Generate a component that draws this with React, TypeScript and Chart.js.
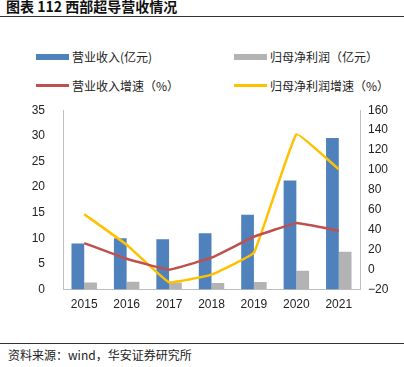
import React, { useEffect, useRef } from "react";
import { Chart, registerables } from "chart.js";

Chart.register(...registerables);

const years = ["2015", "2016", "2017", "2018", "2019", "2020", "2021"];
const revenue = [9.0, 10.0, 9.8, 11.0, 14.6, 21.3, 29.6];
const netProfit = [1.4, 1.55, 1.4, 1.3, 1.5, 3.7, 7.4];
const revenueGrowth = [26.7, 11, 0, 12, 33, 46.7, 39];
const profitGrowth = [55.7, 25, -12.7, -5, 17, 135.7, 100.7];

const BLUE = "#4F81BD";
const GRAY = "#B3B3B3";
const RED = "#C0504D";
const YELLOW = "#FFC000";

const legendItems = [
  { label: "营业收入(亿元)", color: BLUE, bar: true, x: 36, y: 48 },
  { label: "归母净利润（亿元）", color: GRAY, bar: true, x: 234, y: 48 },
  { label: "营业收入增速（%）", color: RED, bar: false, x: 36, y: 77 },
  { label: "归母净利润增速（%）", color: YELLOW, bar: false, x: 234, y: 77 },
];

export default function App() {
  const ref = useRef<HTMLCanvasElement>(null);
  useEffect(() => {
    document.body.style.margin = "0";
    const ctx = ref.current!;
    const chart = new Chart(ctx, {
      type: "bar",
      data: {
        labels: years,
        datasets: [
          {
            type: "line",
            label: "营业收入增速（%）",
            data: revenueGrowth,
            borderColor: RED,
            backgroundColor: RED,
            borderWidth: 2.5,
            pointRadius: 0,
            tension: 0.08,
            yAxisID: "y1",
            order: 0,
          },
          {
            type: "line",
            label: "归母净利润增速（%）",
            data: profitGrowth,
            borderColor: YELLOW,
            backgroundColor: YELLOW,
            borderWidth: 2.5,
            pointRadius: 0,
            tension: 0.08,
            yAxisID: "y1",
            order: 0,
          },
          {
            label: "营业收入(亿元)",
            data: revenue,
            backgroundColor: BLUE,
            yAxisID: "y",
            barPercentage: 1,
            categoryPercentage: 0.6,
            order: 1,
          },
          {
            label: "归母净利润（亿元）",
            data: netProfit,
            backgroundColor: GRAY,
            yAxisID: "y",
            barPercentage: 1,
            categoryPercentage: 0.6,
            order: 1,
          },
        ],
      },
      options: {
        animation: false,
        responsive: false,
        maintainAspectRatio: false,
        layout: { padding: { top: 0, left: 0, right: 4, bottom: 0 } },
        plugins: { legend: { display: false }, tooltip: { enabled: false } },
        scales: {
          x: {
            grid: { display: false, drawTicks: false },
            border: { color: "#BFBFBF", width: 1 },
            ticks: {
              color: "#222",
              font: { family: "Liberation Sans, Arial", size: 12 },
              padding: 8,
            },
          },
          y: {
            position: "left",
            min: 0,
            max: 35,
            afterFit: (s: any) => { s.width = 63; },
            grid: { display: false, drawTicks: false },
            border: { color: "#BFBFBF", width: 1 },
            ticks: {
              stepSize: 5,
              color: "#222",
              font: { family: "Liberation Sans, Arial", size: 12 },
              padding: 18,
            },
          },
          y1: {
            position: "right",
            min: -20,
            max: 160,
            afterFit: (s: any) => { s.width = 40; },
            grid: { display: false, drawOnChartArea: false, drawTicks: true, tickLength: 4, color: "#BFBFBF" },
            border: { color: "#BFBFBF", width: 1 },
            ticks: {
              stepSize: 20,
              color: "#222",
              font: { family: "Liberation Sans, Arial", size: 12 },
              padding: 4,
              callback: (v: any) => (Number(v) < 0 ? "−" + Math.abs(Number(v)) : String(v)),
            },
          },
        },
      },
    });
    return () => chart.destroy();
  }, []);

  const cjk = '"Noto Sans CJK SC", "Noto Sans", sans-serif';
  return (
    <div style={{ position: "relative", width: 404, height: 367, background: "#fff", overflow: "hidden" }}>
      <div style={{ position: "absolute", left: 6, top: -4, fontFamily: cjk, fontWeight: 700, fontSize: 14, color: "#111", whiteSpace: "nowrap" }}>
        图表 112 西部超导营收情况
      </div>
      <div style={{ position: "absolute", left: 0, top: 16, width: 404, height: 1, background: "#333" }} />
      {legendItems.map((it) => (
        <div key={it.label} style={{ position: "absolute", left: it.x, top: it.y, display: "flex", alignItems: "center", fontFamily: cjk, fontSize: 12, color: "#222", whiteSpace: "nowrap" }}>
          <span style={{ display: "inline-block", width: 33, height: it.bar ? 6 : 2.5, background: it.color, marginRight: 3 }} />
          <span>{it.label}</span>
        </div>
      ))}
      <canvas ref={ref} width={404} height={235} style={{ position: "absolute", left: 0, top: 85 }} />
      <div style={{ position: "absolute", left: 0, top: 343, width: 404, height: 1, background: "#333" }} />
      <div style={{ position: "absolute", left: 8, top: 346, fontFamily: cjk, fontSize: 12, color: "#222", whiteSpace: "nowrap" }}>
        资料来源：wind，华安证券研究所
      </div>
    </div>
  );
}
